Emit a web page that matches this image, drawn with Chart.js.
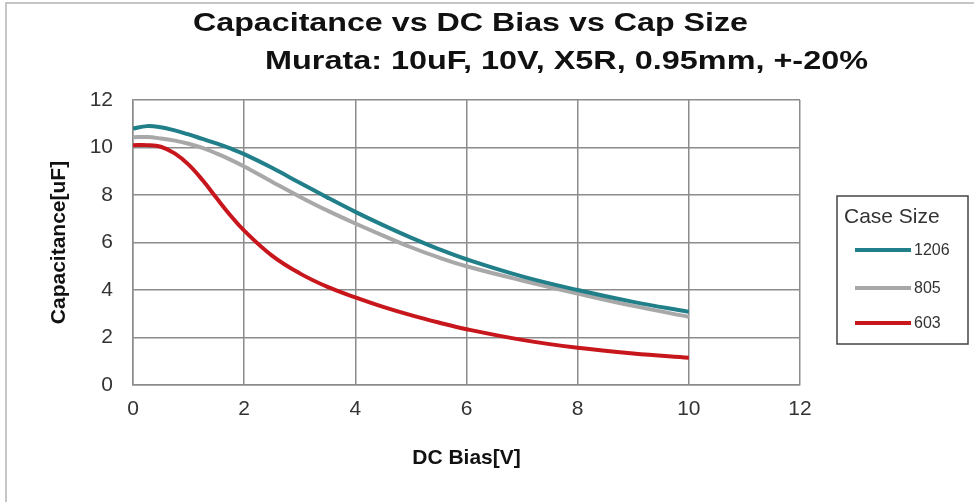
<!DOCTYPE html>
<html>
<head>
<meta charset="utf-8">
<script src="https://cdn.jsdelivr.net/npm/chart.js@4/dist/chart.umd.min.js"></script>
<style>
  html, body { margin: 0; padding: 0; background: #fff; }
  canvas { display: block; }
</style>
</head>
<body>
<canvas id="capChart" width="974" height="502"></canvas>
<script>
/* ── 데이터 ── */
var biasV   = [0, 0.25, 0.5, 0.75, 1, 1.25, 1.5, 1.75, 2, 2.5, 3, 3.5, 4, 4.5, 5, 5.5, 6, 7, 8, 9, 10];
var cap1206 = [10.8, 10.9, 10.85, 10.72, 10.55, 10.36, 10.17, 9.96, 9.72, 9.145, 8.515, 7.89, 7.29, 6.73, 6.205, 5.725, 5.295, 4.575, 4.0, 3.5, 3.08];
var cap805  = [10.43, 10.44, 10.38, 10.29, 10.16, 9.98, 9.75, 9.49, 9.2, 8.56, 7.93, 7.34, 6.8, 6.29, 5.8, 5.37, 5.0, 4.4, 3.85, 3.33, 2.87];
var cap603  = [10.1, 10.1, 10.03, 9.75, 9.28, 8.63, 7.88, 7.15, 6.5, 5.45, 4.7, 4.13, 3.69, 3.29, 2.94, 2.63, 2.35, 1.9, 1.57, 1.33, 1.15];
var seriesNames = ['1206', '805', '603'];
var xTicks = [0, 2, 4, 6, 8, 10, 12];
var yTicks = [0, 2, 4, 6, 8, 10, 12];

var titleLine1 = 'Capacitance vs DC Bias vs Cap Size';
var titleLine2 = 'Murata: 10uF, 10V, X5R, 0.95mm, +-20%';
var legendTitle = 'Case Size';

var FONT = '"Liberation Sans", Arial, sans-serif';

function toPoints(ys) {
  return ys.map(function(y, i) { return { x: biasV[i], y: y }; });
}

/* ── 제목 / 범례 / 외곽선 (직접 그리기) ── */
var decorPlugin = {
  id: 'decor',
  beforeDraw: function(chart) {
    var c = chart.ctx;
    c.save();
    c.fillStyle = '#fff';
    c.fillRect(0, 0, chart.width, chart.height);
    c.strokeStyle = '#b4b4b4';
    c.lineWidth = 1.5;
    c.beginPath();
    c.moveTo(6, chart.height + 2);
    c.lineTo(6, 3);
    c.lineTo(chart.width + 2, 3);
    c.stroke();
    c.restore();
  },
  afterDraw: function(chart) {
    var c = chart.ctx;
    c.save();
    // 제목 (폭 맞춤)
    function fitText(txt, left, right, baseline, font) {
      c.font = font;
      var w = c.measureText(txt).width;
      var sx = (right - left) / w;
      c.save();
      c.translate(left, baseline);
      c.scale(sx, 1);
      c.textAlign = 'left';
      c.textBaseline = 'alphabetic';
      c.fillText(txt, 0, 0);
      c.restore();
    }
    c.fillStyle = '#111';
    fitText(titleLine1, 193, 748, 31, 'bold 26px ' + FONT);
    fitText(titleLine2, 265, 868, 69, 'bold 26px ' + FONT);

    // 범례
    c.strokeStyle = '#444';
    c.lineWidth = 1.5;
    c.strokeRect(837, 196, 131, 148);
    c.fillStyle = '#333';
    c.font = '21px ' + FONT;
    c.textAlign = 'left';
    c.textBaseline = 'alphabetic';
    c.fillText(legendTitle, 844, 223);
    var ys = [250, 288, 323];
    chart.data.datasets.forEach(function(ds, i) {
      c.strokeStyle = ds.borderColor;
      c.lineWidth = 4;
      c.lineCap = 'butt';
      c.beginPath();
      c.moveTo(855, ys[i]);
      c.lineTo(911, ys[i]);
      c.stroke();
      c.fillStyle = '#333';
      c.font = '16px ' + FONT;
      c.textBaseline = 'middle';
      c.fillText(ds.label, 914, ys[i] + 1);
    });
    c.restore();
  }
};

var ctx = document.getElementById('capChart');
new Chart(ctx.getContext('2d'), {
  type: 'line',
  data: {
    datasets: [{
      label: seriesNames[0],
      data: toPoints(cap1206),
      borderColor: '#217f8a',
      borderWidth: 4,
      pointRadius: 0,
      tension: 0.4
    }, {
      label: seriesNames[1],
      data: toPoints(cap805),
      borderColor: '#a8a8a8',
      borderWidth: 4,
      pointRadius: 0,
      tension: 0.4
    }, {
      label: seriesNames[2],
      data: toPoints(cap603),
      borderColor: '#c8161d',
      borderWidth: 4,
      pointRadius: 0,
      tension: 0.4
    }]
  },
  plugins: [decorPlugin],
  options: {
    responsive: false,
    animation: false,
    devicePixelRatio: 1,
    layout: { padding: { top: 100, right: 174, bottom: 0, left: 0 } },
    plugins: {
      legend: { display: false },
      title: { display: false },
      tooltip: { enabled: false }
    },
    scales: {
      x: {
        type: 'linear',
        min: 0, max: 12,
        afterBuildTicks: function(s) { s.ticks = xTicks.map(function(v) { return { value: v }; }); },
        afterFit: function(s) { s.height = 117; },
        grid: { color: '#8c8c8c', lineWidth: 1.5, drawTicks: false },
        border: { color: '#8c8c8c', width: 1.5 },
        ticks: { padding: 12, color: '#333', font: { family: FONT, size: 21 } },
        title: {
          display: true, text: 'DC Bias[V]', color: '#111',
          font: { family: FONT, size: 21, weight: 'bold' },
          padding: { top: 0, bottom: 31 }
        }
      },
      y: {
        min: 0, max: 12,
        afterBuildTicks: function(s) { s.ticks = yTicks.map(function(v) { return { value: v }; }); },
        afterFit: function(s) { s.width = 133; },
        grid: { color: '#8c8c8c', lineWidth: 1.5, drawTicks: false },
        border: { color: '#8c8c8c', width: 1.5 },
        ticks: { padding: 20, color: '#333', font: { family: FONT, size: 21 } },
        title: {
          display: true, text: 'Capacitance[uF]', color: '#111',
          font: { family: FONT, size: 21, weight: 'bold' },
          padding: { top: 47, bottom: 0 }
        }
      }
    }
  }
});
</script>
</body>
</html>
